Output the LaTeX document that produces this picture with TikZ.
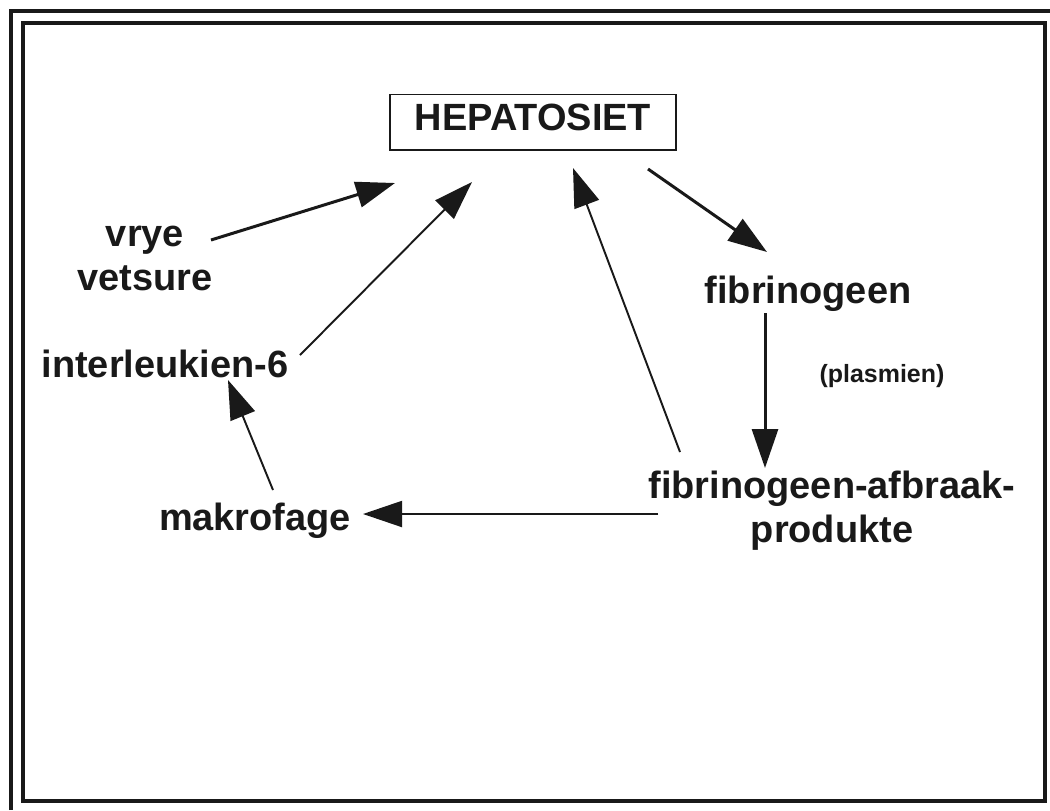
\documentclass[tikz,border=0pt]{standalone}
\usepackage{fontspec}
\setmainfont{Liberation Sans}
\usetikzlibrary{arrows.meta}

\begin{document}
\begin{tikzpicture}[
  x=0.1mm, y=-0.1mm,
  term/.style={inner sep=0pt, anchor=base, align=center, font=\fontsize{10.8}{12.4}\selectfont\bfseries, text=black!90},
  smallterm/.style={term, font=\fontsize{7.1}{8.5}\selectfont\bfseries},
  hepbox/.style={term, draw=black!90, line width=0.5pt, inner xsep=2.5mm, inner ysep=0.9mm, text depth=1.1mm},
  pijl/.style={-{Triangle[length=3.9mm, width=2.6mm]}, line width=0.55pt, draw=black!90, fill=black!90},
  dikpijl/.style={pijl, line width=0.85pt},
  raam/.style={line width=1.4pt, draw=black!90}
]
\useasboundingbox (0,0) rectangle (1050,810);

\draw[raam] (11,810) -- (11,11) -- (1050,11);
\draw[raam] (23,23) rectangle (1045,801);

\node[hepbox] (hep) at (533,130) {HEPATOSIET};
\node[term] (vv) at (145,290) {vrye\\vetsure};
\node[term] (il6) at (165,377) {interleukien-6};
\node[term] (mak) at (255,530) {makrofage};
\node[term] (fib) at (808,303) {fibrinogeen};
\node[smallterm] (plas) at (882,382) {(plasmien)};
\node[term] (fab) at (832,542) {fibrinogeen-afbraak-\\produkte};

\draw[dikpijl] ([shift={(66,-50)}]vv.base) -- ([shift={(-138,53)}]hep.base);
\draw[pijl] ([shift={(135,-22)}]il6.base) -- ([shift={(-61,52)}]hep.base);
\draw[pijl] ([shift={(-152,-90)}]fab.base) -- ([shift={(40,38)}]hep.base);
\draw[dikpijl] ([shift={(115,39)}]hep.base) -- ([shift={(-41,-51)}]fib.base);
\draw[dikpijl] ([shift={(-43,10)}]fib.base) -- ([shift={(-67,-74)}]fab.base);
\draw[pijl] ([shift={(-174,-28)}]fab.base) -- ([shift={(108,-16)}]mak.base);
\draw[pijl] ([shift={(18,-40)}]mak.base) -- ([shift={(63,3)}]il6.base);
\end{tikzpicture}
\end{document}
